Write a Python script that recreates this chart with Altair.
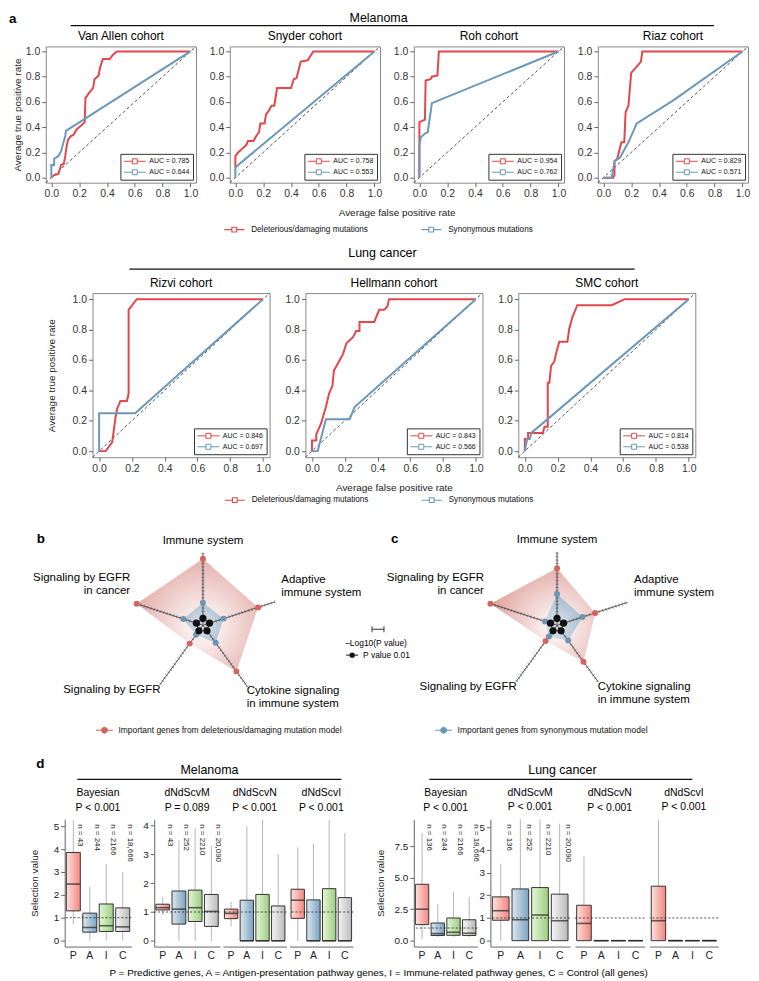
import math
import altair as alt
import pandas as pd

FONT = "Liberation Sans"
RED = "#e1474b"
BLUE = "#6b98b9"
RED_DOT = "#d3655e"
BLUE_DOT = "#6d96b5"

# ---------------- panel a : ROC curves ----------------
SERIES = ["Deleterious/damaging mutations", "Synonymous mutations"]
GROUPS = ["Melanoma", "Lung cancer"]
FPR_TICKS = [0.0, 0.2, 0.4, 0.6, 0.8, 1.0]
X_TITLE = "Average false positive rate"
Y_TITLE = "Average true positive rate"

van_allen_del = [(0, 0), (0.02, 0.02), (0.05, 0.03), (0.06, 0.06), (0.07, 0.10), (0.09, 0.11),
                 (0.10, 0.17), (0.11, 0.25), (0.12, 0.30), (0.14, 0.33), (0.16, 0.34), (0.18, 0.38),
                 (0.20, 0.40), (0.22, 0.42), (0.24, 0.44), (0.245, 0.63), (0.27, 0.67), (0.30, 0.71),
                 (0.31, 0.78), (0.34, 0.81), (0.35, 0.87), (0.37, 0.94), (0.42, 0.94), (0.44, 0.97),
                 (0.47, 1.0), (1.0, 1.0)]
van_allen_syn = [(0, 0), (0, 0.10), (0.02, 0.10), (0.02, 0.15), (0.05, 0.17), (0.07, 0.21),
                 (0.08, 0.25), (0.10, 0.33), (0.105, 0.37), (1.0, 1.0)]
snyder_del = [(0, 0.08), (0, 0.17), (0.02, 0.20), (0.05, 0.23), (0.08, 0.26), (0.09, 0.29),
              (0.13, 0.29), (0.15, 0.33), (0.17, 0.36), (0.18, 0.43), (0.21, 0.43), (0.22, 0.50),
              (0.24, 0.53), (0.26, 0.57), (0.28, 0.57), (0.30, 0.71), (0.40, 0.71), (0.42, 0.78),
              (0.44, 0.79), (0.47, 0.92), (0.52, 0.93), (0.56, 1.0), (1.0, 1.0)]
snyder_syn = [(0, 0), (0, 0.08), (0.02, 0.10), (1.0, 1.0)]
roh_del = [(0, 0), (0, 0.44), (0.02, 0.45), (0.04, 0.46), (0.045, 0.77), (0.08, 0.78),
           (0.09, 0.80), (0.13, 0.81), (0.14, 1.0), (1.0, 1.0)]
roh_syn = [(0, 0), (0, 0.25), (0.01, 0.32), (0.04, 0.35), (0.06, 0.36), (0.09, 0.59), (1.0, 1.0)]
riaz_del = [(0, 0), (0.07, 0), (0.08, 0.02), (0.08, 0.13), (0.10, 0.15), (0.12, 0.24), (0.13, 0.28),
            (0.15, 0.28), (0.16, 0.52), (0.18, 0.57), (0.20, 0.83), (0.24, 0.88), (0.27, 0.92),
            (0.28, 1.0), (1.0, 1.0)]
riaz_syn = [(0, 0), (0.06, 0), (0.08, 0.13), (0.12, 0.16), (0.18, 0.28), (0.24, 0.43), (0.50, 0.61),
            (1.0, 1.0)]
rizvi_del = [(0, 0), (0.04, 0), (0.08, 0.06), (0.10, 0.22), (0.11, 0.28), (0.13, 0.33), (0.17, 0.33),
             (0.18, 0.38), (0.18, 0.93), (0.23, 1.0), (1.0, 1.0)]
rizvi_syn = [(0, 0), (0, 0.25), (0.22, 0.25), (1.0, 1.0)]
hellmann_del = [(0, 0), (0, 0.07), (0.026, 0.07), (0.026, 0.11), (0.055, 0.18), (0.085, 0.29),
                (0.105, 0.38), (0.125, 0.43), (0.134, 0.53), (0.17, 0.60), (0.19, 0.64), (0.21, 0.71),
                (0.25, 0.75), (0.27, 0.79), (0.29, 0.79), (0.29, 0.85), (0.38, 0.85), (0.41, 0.93),
                (0.44, 0.93), (0.46, 0.95), (0.47, 1.0), (1.0, 1.0)]
hellmann_syn = [(0, 0), (0.035, 0), (0.085, 0.21), (0.23, 0.21), (0.26, 0.29), (1.0, 1.0)]
smc_del = [(0, 0), (0, 0.08), (0.02, 0.08), (0.02, 0.12), (0.11, 0.12), (0.12, 0.16), (0.14, 0.16),
           (0.14, 0.45), (0.15, 0.45), (0.16, 0.56), (0.18, 0.59), (0.19, 0.64), (0.21, 0.72),
           (0.26, 0.72), (0.27, 0.80), (0.29, 0.88), (0.32, 0.96), (0.53, 0.96), (0.61, 1.0),
           (1.0, 1.0)]
smc_syn = [(0, 0), (0.014, 0.08), (0.03, 0.08), (0.04, 0.12), (1.0, 1.0)]

MEL_COHORTS = ["Van Allen cohort", "Snyder cohort", "Roh cohort", "Riaz cohort"]
MEL_AUC_DEL = ["0.785", "0.758", "0.954", "0.829"]
MEL_AUC_SYN = ["0.644", "0.553", "0.762", "0.571"]
LUNG_COHORTS = ["Rizvi cohort", "Hellmann cohort", "SMC cohort"]
LUNG_AUC_DEL = ["0.846", "0.843", "0.814"]
LUNG_AUC_SYN = ["0.697", "0.566", "0.538"]

# ---------------- panels b, c : radar ----------------
PATHWAYS = ["Immune system", "Adaptive\nimmune system", "Cytokine signaling\nin immune system",
            "Signaling by EGFR", "Signaling by EGFR\nin cancer"]
PATHWAY_ANGLE = [90, 18, -54, -126, 162]
b_del = [19.4, 16.9, 16.6, 6.6, 20.3]
b_syn = [6.6, 6.3, 6.3, 3.4, 6.0]
b_axis = [21.0, 22.0, 22.0, 21.4, 20.3]
c_del = [16.6, 11.7, 13.1, 5.7, 20.4]
c_syn = [9.1, 7.8, 5.5, 4.0, 3.7]
c_axis = [21.4, 21.6, 20.5, 20.3, 20.4]
P_THRESHOLD = 2.0  # -log10(0.01)
RADAR_LEGEND = ["Important genes from deleterious/damaging mutation model",
                "Important genes from synonymous mutation model"]
MID_TEXT = ["\u2013Log10(P value)", "P value 0.01"]

# ---------------- panel d : box plots (lo, q1, median, q3, hi) ----------------
CATS = ["P", "A", "I", "C"]
NEUTRAL = 1.0
mel_bayes = [(0.72, 1.3, 2.47, 3.85, 5.25), (0, 0.37, 0.57, 1.2, 2.35),
             (0, 0.4, 0.65, 1.6, 3.35), (0, 0.4, 0.6, 1.43, 3.0)]
mel_m = [(0.9, 1.07, 1.15, 1.27, 1.52), (0, 0.58, 1.1, 1.73, 3.48),
         (0, 0.67, 1.15, 1.76, 3.9), (0, 0.5, 1.02, 1.61, 3.31)]
mel_n = [(0.5, 0.77, 0.95, 1.1, 1.36), (0, 0, 0, 1.41, 3.98),
         (0, 0, 0, 1.61, 4.2), (0, 0, 0, 1.21, 3.0)]
mel_i = [(0, 0.78, 1.41, 1.79, 3.25), (0, 0, 0, 1.42, 3.37),
         (0, 0, 0, 1.81, 4.2), (0, 0, 0, 1.5, 3.75)]
lung_bayes = [(0.1, 1.27, 2.5, 4.49, 8.58), (0.3, 0.4, 0.55, 1.4, 2.9),
              (0.3, 0.42, 0.66, 1.8, 3.9), (0.3, 0.4, 0.58, 1.66, 3.5)]
lung_m = [(0, 0.9, 1.32, 1.93, 3.39), (0, 0, 0.92, 2.28, 5.35),
          (0, 0, 1.13, 2.34, 5.35), (0, 0, 0.88, 2.05, 5.15)]
lung_n = [(0, 0, 0.76, 1.56, 3.7), (0, 0, 0, 0, 0), (0, 0, 0, 0, 0), (0, 0, 0, 0, 0)]
lung_i = [(0, 0, 0.88, 2.4, 5.35), (0, 0, 0, 0, 0), (0, 0, 0, 0, 0), (0, 0, 0, 0, 0)]
METHODS = ["Bayesian", "dNdScvM", "dNdScvN", "dNdScvI"]
MEL_P = ["P < 0.001", "P = 0.089", "P < 0.001", "P < 0.001"]
LUNG_P = ["P < 0.001", "P < 0.001", "P < 0.001", "P < 0.001"]
MEL_N_BAYES = ["n = 43", "n = 244", "n = 2166", "n = 18,666"]
MEL_N_DND = ["n = 43", "n = 252", "n = 2210", "n = 20,090"]
LUNG_N_BAYES = ["n = 136", "n = 244", "n = 2166", "n = 18,666"]
LUNG_N_DND = ["n = 136", "n = 252", "n = 2210", "n = 20,090"]
FOOTNOTE = ("P = Predictive genes,  A = Antigen-presentation pathway genes, "
            "I = Immune-related pathway genes,  C = Control (all genes)")
LETTERS = ["a", "b", "c", "d"]

# ---------------- styles ----------------
# legend symbols use a small nominal size (keeps rows compact) and a path reaching further right
AUC_PATH = "M-1,0H1.125M2.375,0H4.5M1.125,-0.625H2.375V0.625H1.125Z"       # 22 px wide at size 64
SER_PATH = "M-1,0H0.9M2.1,0H4M0.9,-0.6H2.1V0.6H0.9Z"                       # 20 px wide at size 64
DOT_PATH = ("M-1,0H0.375M1.875,0H3.25M1.875,0A0.75,0.75,0,1,1,0.375,0"
            "A0.75,0.75,0,1,1,1.875,0Z")                                   # 17 px wide at size 64
BOX_GRAD = {"P": ("#fde1dd", "#f2867f"), "A": ("#dce7f0", "#7ca3c0"),
            "I": ("#e5f5d8", "#9bcf7f"), "C": ("#f5f5f5", "#bababa")}
ONE = pd.DataFrame({"k": [0]})
TOTAL_W = 743
BOX_H = 128


def spacer(w, h=1):
    return alt.Chart(ONE).mark_point(opacity=0, size=0).encode(
        x=alt.value(w / 2), y=alt.value(h / 2)).properties(width=w, height=h)


def indep(c):
    return (c.resolve_scale(color="independent", stroke="independent")
            .resolve_legend(color="independent", stroke="independent"))


def hrow(*items):
    return indep(alt.hconcat(*items, spacing=0, bounds="flush"))


def text_layer(t, x, y, size, weight="normal", align="center", baseline="middle"):
    return alt.Chart(pd.DataFrame({"t": [t]})).mark_text(
        align=align, baseline=baseline, fontSize=size, fontWeight=weight,
        color="black").encode(x=alt.value(x), y=alt.value(y), text="t:N")


def hline(x1, x2, y, w=1.3):
    return alt.Chart(ONE).mark_rule(color="#111", strokeWidth=w).encode(
        x=alt.value(x1), x2=alt.value(x2), y=alt.value(y))


def series_legend(lx, ly):
    return alt.Chart(pd.DataFrame({"s": SERIES})).mark_point(opacity=0, size=0).encode(
        x=alt.value(0), y=alt.value(0),
        stroke=alt.Stroke("s:N", scale=alt.Scale(domain=SERIES, range=[RED, BLUE]),
                          legend=alt.Legend(title=None, orient="none", legendX=lx, legendY=ly,
                                            direction="horizontal", symbolType=SER_PATH,
                                            symbolSize=64, symbolStrokeWidth=1.1,
                                            symbolOpacity=1, labelFontSize=8.2, labelOffset=18,
                                            columnPadding=50, labelLimit=400,
                                            labelColor="#111")))


def curve_df(pts, label):
    return pd.DataFrame({"fpr": [p[0] for p in pts], "tpr": [p[1] for p in pts],
                         "grp": label, "o": list(range(len(pts)))})


def roc_panel(name, dpts, spts, auc_d, auc_s, w, h, ytitle=False, xtitle=False, xtitle_x=None,
              legend_at=None, ytitle_pad=3):
    labs = ["AUC = " + auc_d, "AUC = " + auc_s]
    df = pd.concat([curve_df(dpts, labs[0]), curve_df(spts, labs[1])], ignore_index=True)
    dom = [-0.04, 1.04]
    common = dict(values=FPR_TICKS, format=".1f", grid=False, domain=False, tickColor="#666",
                  tickSize=4, labelFontSize=10.5, labelColor="#333", labelFlush=False)
    xa = dict(common, labelPadding=2)
    if xtitle:
        xa.update(title=X_TITLE, titleFontSize=10, titleFontWeight="normal", titlePadding=9,
                  titleColor="#222")
        if xtitle_x is not None:
            xa["titleX"] = xtitle_x
    else:
        xa["title"] = None
    ya = dict(common, labelPadding=2)
    if ytitle:
        ya.update(title=Y_TITLE, titleFontSize=10, titleFontWeight="normal",
                  titlePadding=ytitle_pad, titleColor="#222")
    else:
        ya["title"] = None
    X = alt.X("fpr:Q", scale=alt.Scale(domain=dom, nice=False, zero=False), axis=alt.Axis(**xa))
    Y = alt.Y("tpr:Q", scale=alt.Scale(domain=dom, nice=False, zero=False), axis=alt.Axis(**ya))
    diag = alt.Chart(pd.DataFrame({"fpr": dom, "tpr": dom})).mark_line(
        color="#222", strokeDash=[3, 2.5], strokeWidth=0.8).encode(x=X, y=Y)
    lines = alt.Chart(df).mark_line(strokeWidth=2).encode(
        x=X, y=Y, order="o:Q",
        color=alt.Color("grp:N", scale=alt.Scale(domain=labs, range=[RED, BLUE]),
                        legend=alt.Legend(title=None, orient="bottom-right", offset=3, padding=3,
                                          strokeColor="#333", fillColor="white",
                                          symbolType=AUC_PATH, symbolSize=64,
                                          symbolStrokeWidth=1, symbolFillColor="white",
                                          labelFontSize=7, labelOffset=17, rowPadding=2,
                                          cornerRadius=0, labelColor="#111")))
    layers = [diag, lines]
    if legend_at is not None:
        layers.append(series_legend(*legend_at))
    return alt.layer(*layers).properties(
        width=w, height=h,
        title=alt.TitleParams(text=name, fontSize=12, fontWeight="normal", offset=2, color="black"),
        view=alt.ViewBackground(stroke="#888", strokeWidth=1))


# ---------------- radar ----------------
RAD_PX = 3.45
CX = "datum.r * cos(datum.a * PI / 180)"
CY = "datum.r * sin(datum.a * PI / 180)"


def ring(vals, name=""):
    return pd.DataFrame({"a": PATHWAY_ANGLE, "r": vals, "s": name, "o": list(range(len(vals)))})


def focus(vals):
    xs = [r * math.cos(math.radians(a)) for r, a in zip(vals, PATHWAY_ANGLE)]
    ys = [r * math.sin(math.radians(a)) for r, a in zip(vals, PATHWAY_ANGLE)]
    return (0 - min(xs)) / (max(xs) - min(xs)), (max(ys) - 0) / (max(ys) - min(ys))


def radar(dv, sv, alen, leg_item, leg_color, letter, leg_x, leg_y):
    W, H = 260, 200
    XS = alt.Scale(domain=[-W / 2 / RAD_PX, W / 2 / RAD_PX], nice=False, zero=False)
    YS = alt.Scale(domain=[-H / 2 / RAD_PX, H / 2 / RAD_PX], nice=False, zero=False)
    X = alt.X("px:Q", scale=XS, axis=None)
    Y = alt.Y("py:Q", scale=YS, axis=None)

    def poly(vals, c_in, c_out):
        fx, fy = focus(vals)
        grad = {"gradient": "radial", "x1": fx, "y1": fy, "r1": 0, "x2": fx, "y2": fy, "r2": 0.8,
                "stops": [{"offset": 0, "color": c_in}, {"offset": 1, "color": c_out}]}
        return alt.Chart(ring(vals)).transform_calculate(px=CX, py=CY).mark_line(
            interpolate="linear-closed", fill=grad, strokeOpacity=0).encode(x=X, y=Y, order="o:Q")

    layers = [poly(dv, "#ffffff", "#d98f88"), poly(sv, "#dfe7ee", "#95b0c5")]
    axes = alt.Chart(pd.DataFrame({"a": PATHWAY_ANGLE, "r": alen})).transform_calculate(
        px=CX, py=CY, z="0").mark_rule(color="#444", strokeWidth=0.9).encode(
        x=alt.X("z:Q", scale=XS, axis=None), y=alt.Y("z:Q", scale=YS, axis=None),
        x2="px:Q", y2="py:Q")
    layers.append(axes)
    trows = [{"a": a, "r": k} for a, L in zip(PATHWAY_ANGLE, alen) for k in range(1, int(L) + 1)]
    ticks = alt.Chart(pd.DataFrame(trows)).transform_calculate(
        x1="datum.r*cos(datum.a*PI/180) + 0.45*sin(datum.a*PI/180)",
        y1="datum.r*sin(datum.a*PI/180) - 0.45*cos(datum.a*PI/180)",
        x2="datum.r*cos(datum.a*PI/180) - 0.45*sin(datum.a*PI/180)",
        y2="datum.r*sin(datum.a*PI/180) + 0.45*cos(datum.a*PI/180)").mark_rule(
        color="#555", strokeWidth=0.6).encode(
        x=alt.X("x1:Q", scale=XS, axis=None), y=alt.Y("y1:Q", scale=YS, axis=None),
        x2="x2:Q", y2="y2:Q")
    layers.append(ticks)
    thr = ring([P_THRESHOLD] * 5)
    layers.append(alt.Chart(thr).transform_calculate(px=CX, py=CY).mark_line(
        interpolate="linear-closed", color="#111", strokeWidth=0.8).encode(x=X, y=Y, order="o:Q"))
    pts = pd.concat([ring(dv, RADAR_LEGEND[0]), ring(sv, RADAR_LEGEND[1])], ignore_index=True)
    layers.append(alt.Chart(pts).transform_calculate(px=CX, py=CY).mark_point(
        filled=True, size=36, opacity=1).encode(
        x=X, y=Y,
        color=alt.Color("s:N", scale=alt.Scale(domain=RADAR_LEGEND, range=[RED_DOT, BLUE_DOT]),
                        legend=alt.Legend(values=[leg_item], title=None, orient="none",
                                          legendX=leg_x, legendY=leg_y, symbolType=DOT_PATH,
                                          symbolSize=64, symbolStrokeColor=leg_color,
                                          symbolStrokeWidth=1, labelFontSize=8.5, labelOffset=14,
                                          labelLimit=400, labelColor="#111"))))
    layers.append(alt.Chart(thr).transform_calculate(px=CX, py=CY).mark_point(
        filled=True, size=52, color="#111", opacity=1).encode(x=X, y=Y))
    LH = 13
    for name, a, L in zip(PATHWAYS, PATHWAY_ANGLE, alen):
        ca, sa = math.cos(math.radians(a)), math.sin(math.radians(a))
        align = "center" if abs(ca) < 0.3 else ("left" if ca > 0 else "right")
        upper = sa > 0.1
        base = "bottom" if upper else "top"
        nlines = name.count("\n") + 1
        extra = (2 if ca > 0 else 6) if nlines > 1 else 0
        dy = (-(nlines - 1) * LH - extra) if upper else 0
        pad = 2.0 if upper else -0.3
        layers.append(alt.Chart(pd.DataFrame({"a": [a], "r": [L + pad], "t": [name]}))
                      .transform_calculate(px=CX, py=CY)
                      .mark_text(align=align, baseline=base, fontSize=11.5, lineBreak="\n",
                                 lineHeight=LH, color="black", dy=dy)
                      .encode(x=X, y=Y, text="t:N"))
    layers.append(text_layer(letter, -37, 6, 13.5, "bold", "left", "top"))
    return alt.layer(*layers).properties(width=W, height=H)


def mid_legend():
    W, H = 96, 200
    layers = [
        alt.Chart(ONE).mark_rule(color="#333", strokeWidth=1).encode(
            x=alt.value(40), x2=alt.value(52), y=alt.value(104)),
        alt.Chart(ONE).mark_rule(color="#333", strokeWidth=1).encode(
            x=alt.value(40), y=alt.value(101), y2=alt.value(107)),
        alt.Chart(ONE).mark_rule(color="#333", strokeWidth=1).encode(
            x=alt.value(52), y=alt.value(101), y2=alt.value(107)),
        text_layer(MID_TEXT[0], 44, 118, 8.5),
        alt.Chart(ONE).mark_rule(color="#111", strokeWidth=1).encode(
            x=alt.value(14), x2=alt.value(26), y=alt.value(130)),
        alt.Chart(ONE).mark_point(filled=True, size=28, color="#111", opacity=1).encode(
            x=alt.value(20), y=alt.value(130)),
        text_layer(MID_TEXT[1], 31, 130, 8.5, align="left"),
    ]
    return alt.layer(*layers).properties(width=W, height=H)


# ---------------- box plots ----------------
def box_panel(method, pval, stats, w, ydom, yvals=None, yfmt="d", ytitle=None, ns=None,
              ytitle_pad=9):
    df = pd.DataFrame({"cat": CATS, "lo": [s[0] for s in stats], "q1": [s[1] for s in stats],
                       "med": [s[2] for s in stats], "q3": [s[3] for s in stats],
                       "hi": [s[4] for s in stats]})
    pi, po = 0.15, 0.1
    step = w / (4 - pi + 2 * po)
    bw = step * (1 - pi)
    XS = alt.Scale(type="band", domain=CATS, paddingInner=pi, paddingOuter=po)
    xax = alt.Axis(title=None, labelAngle=0, ticks=False, domainColor="#666", labelFontSize=10.5,
                   labelPadding=4, labelColor="#222")
    X = alt.X("cat:N", scale=XS, axis=xax, sort=CATS)
    YS = alt.Scale(domain=ydom, nice=False, zero=False)
    if yvals is not None:
        yd = dict(values=yvals, format=yfmt, grid=False, domainColor="#666", tickColor="#666",
                  tickSize=4, labelFontSize=10, labelColor="#222", labelPadding=2)
        if ytitle:
            yd.update(title=ytitle, titleFontSize=10, titleFontWeight="normal",
                      titlePadding=ytitle_pad, titleColor="#222")
        else:
            yd["title"] = None
        yax = alt.Axis(**yd)
    else:
        yax = None
    layers = [alt.Chart(df).mark_rule(color="#b5b5b5", strokeWidth=1).encode(
        x=X, y=alt.Y("lo:Q", scale=YS, axis=yax), y2="hi:Q")]
    for c in CATS:
        g = BOX_GRAD[c]
        grad = {"gradient": "linear", "x1": 0, "x2": 1, "y1": 0, "y2": 0,
                "stops": [{"offset": 0, "color": g[0]}, {"offset": 1, "color": g[1]}]}
        layers.append(alt.Chart(df[df["cat"] == c]).mark_bar(
            fill=grad, stroke="#333", strokeWidth=1).encode(
            x=X, y=alt.Y("q1:Q", scale=YS, axis=yax), y2="q3:Q"))
    layers.append(alt.Chart(df).mark_tick(color="#222", thickness=1.6, size=bw).encode(
        x=X, y=alt.Y("med:Q", scale=YS, axis=yax)))
    layers.append(alt.Chart(pd.DataFrame({"v": [NEUTRAL]})).mark_rule(
        strokeDash=[2, 2], color="#222", strokeWidth=0.8).encode(
        y=alt.Y("v:Q", scale=YS, axis=yax)))
    if ns is not None:
        # rotated 90deg: dy (text frame) points to the left on screen
        layers.append(alt.Chart(pd.DataFrame({"cat": CATS, "n": ns})).mark_text(
            angle=90, align="left", baseline="middle", fontSize=8, color="#222",
            dy=-bw / 2).encode(x=X, y=alt.value(5), text="n:N"))
    return alt.layer(*layers).properties(
        width=w, height=BOX_H,
        title=alt.TitleParams(text=method, subtitle=pval, fontSize=10.5, fontWeight="normal",
                              subtitleFontSize=10.5, subtitleColor="black", color="black",
                              offset=6, subtitlePadding=4, anchor="middle"))


# ---------------- assemble ----------------
h1 = alt.layer(
    text_layer(LETTERS[0], 0, 0, 13.5, "bold", "left", "top"),
    text_layer(GROUPS[0], 371.6, 6, 12.5),
    hline(62, 708.7, 14),
).properties(width=TOTAL_W, height=16)

MW, MH = 151, 137
mel_curves = [(van_allen_del, van_allen_syn), (snyder_del, snyder_syn), (roh_del, roh_syn),
              (riaz_del, riaz_syn)]
mel_items = [spacer(37)]
for i, (name, (dp, sp)) in enumerate(zip(MEL_COHORTS, mel_curves)):
    if i > 0:
        mel_items.append(spacer(33.5))
    mel_items.append(roc_panel(name, dp, sp, MEL_AUC_DEL[i], MEL_AUC_SYN[i], MW, MH,
                               ytitle=(i == 0), xtitle=(i == 1), xtitle_x=MW + 16.75,
                               legend_at=(-6.5, 179) if i == 1 else None))
row_mel = hrow(*mel_items)

h2 = alt.layer(
    text_layer(GROUPS[1], 375.5, 17, 12.5),
    hline(121, 629, 33),
).properties(width=TOTAL_W, height=38)

LW, LH = 178, 165
lung_curves = [(rizvi_del, rizvi_syn), (hellmann_del, hellmann_syn), (smc_del, smc_syn)]
lung_items = [spacer(83.6)]
for i, (name, (dp, sp)) in enumerate(zip(LUNG_COHORTS, lung_curves)):
    if i > 0:
        lung_items.append(spacer(35.4))
    lung_items.append(roc_panel(name, dp, sp, LUNG_AUC_DEL[i], LUNG_AUC_SYN[i], LW, LH,
                                ytitle=(i == 0), xtitle=(i == 1), ytitle_pad=16,
                                legend_at=(-82, 203) if i == 1 else None))
row_lung = hrow(*lung_items)

h3 = spacer(TOTAL_W, 17)

row_radar = hrow(
    spacer(64.6),
    radar(b_del, b_syn, b_axis, RADAR_LEGEND[0], RED_DOT, LETTERS[1], 22, 201),
    mid_legend(),
    radar(c_del, c_syn, c_axis, RADAR_LEGEND[1], BLUE_DOT, LETTERS[2], 7, 201),
)

h4 = alt.layer(
    text_layer(LETTERS[3], 27.5, 19, 13.5, "bold", "left", "top"),
    text_layer(GROUPS[0], 201.5, 33, 12.5),
    text_layer(GROUPS[1], 556.4, 33, 12.5),
    hline(68.8, 334.2, 42),
    hline(422.7, 687, 42),
).properties(width=TOTAL_W, height=49)

row_box = hrow(
    spacer(56),
    box_panel(METHODS[0], MEL_P[0], mel_bayes, 67, [-0.26, 5.3], [0, 1, 2, 3, 4, 5], "d",
              "Selection value", MEL_N_BAYES, ytitle_pad=14),
    spacer(22.5),
    box_panel(METHODS[1], MEL_P[1], mel_m, 66, [-0.2, 4.22], [0, 1, 2, 3, 4], "d", None, MEL_N_DND),
    spacer(3),
    box_panel(METHODS[2], MEL_P[2], mel_n, 64, [-0.2, 4.22]),
    spacer(3),
    box_panel(METHODS[3], MEL_P[3], mel_i, 64, [-0.2, 4.22]),
    spacer(61),
    box_panel(METHODS[0], LUNG_P[0], lung_bayes, 64, [-0.48, 9.68], [0, 2.5, 5, 7.5], ".1f",
              "Selection value", LUNG_N_BAYES, ytitle_pad=9),
    spacer(12.7),
    box_panel(METHODS[1], LUNG_P[1], lung_m, 80, [-0.26, 5.35], [0, 1, 2, 3, 4, 5], "d", None,
              LUNG_N_DND),
    spacer(4.7),
    box_panel(METHODS[2], LUNG_P[2], lung_n, 70, [-0.26, 5.35]),
    spacer(5),
    box_panel(METHODS[3], LUNG_P[3], lung_i, 69, [-0.26, 5.35]),
)

foot = alt.layer(text_layer(FOOTNOTE, 371.6, 11, 10)).properties(width=TOTAL_W, height=15)

chart = (indep(alt.vconcat(h1, row_mel, h2, row_lung, h3, row_radar, h4, row_box, foot,
                           spacing=0))
         .properties(padding=0)
         .configure(font=FONT, background="white")
         .configure_view(stroke="transparent")
         .configure_axis(labelFont=FONT, titleFont=FONT)
         .configure_legend(labelFont=FONT)
         .configure_title(font=FONT, subtitleFont=FONT)
         .configure_text(font=FONT))

chart.save("out.html", embed_options={"renderer": "svg", "actions": False})
